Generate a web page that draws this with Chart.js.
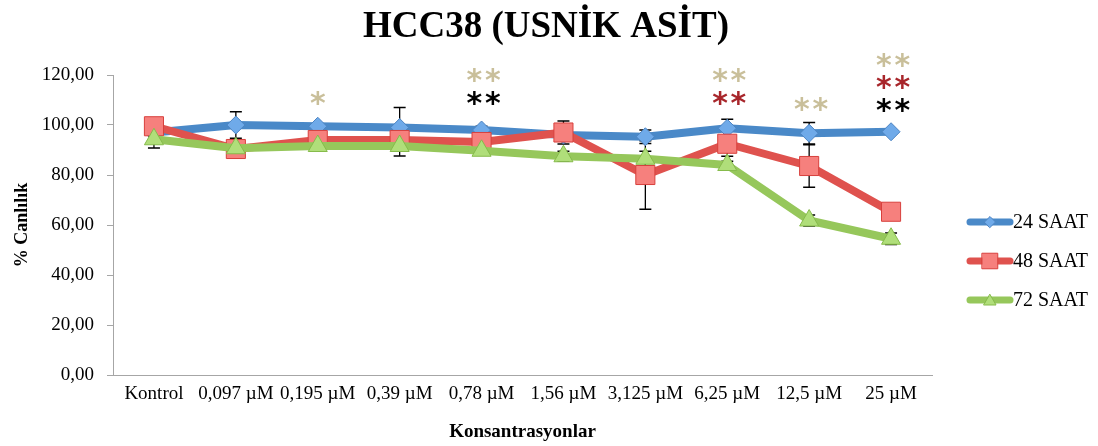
<!DOCTYPE html>
<html>
<head>
<meta charset="utf-8">
<script src="https://cdn.jsdelivr.net/npm/chart.js@4.4.1/dist/chart.umd.min.js"></script>
<style>
html,body{margin:0;padding:0;background:#fff;}
#wrap{width:1098px;height:446px;}
</style>
</head>
<body>
<div id="wrap"><canvas id="c" width="1098" height="446"></canvas></div>
<script>
// ---- data ----
const categories = ['Kontrol', '0,097 µM', '0,195 µM', '0,39 µM', '0,78 µM', '1,56 µM', '3,125 µM', '6,25 µM', '12,5 µM', '25 µM'];
const seriesNames = ['24 SAAT', '48 SAAT', '72 SAAT'];
const saat24 = [97, 100, 99.5, 99, 98, 96, 95.3, 98.7, 96.7, 97.3];
const saat48 = [99.5, 90.4, 94, 94, 93.2, 97, 80, 92.5, 83.6, 65.3];
const saat72 = [94.3, 90.7, 91.6, 91.6, 89.7, 87.5, 86.5, 84, 61.8, 54.5];
const err24 = [1.5, 5.3, 1, 8, 1.5, 2, 2.7, 3.6, 4.3, 0.8];
const err48 = [2, 3.5, 1.5, 1.5, 2, 4.6, 13.7, 5, 8.5, 1.5];
const err72 = [3.5, 1.5, 1.5, 4, 1.5, 2, 3, 1.5, 2.2, 2.3];
const yTicks = [0, 20, 40, 60, 80, 100, 120];
// significance marks per category (24 h = black, 48 h = red, 72 h = tan)
const sig24 = ['', '', '', '', '**', '', '', '', '', '**'];
const sig48 = ['', '', '', '', '', '', '', '**', '', '**'];
const sig72 = ['', '', '*', '', '**', '', '', '**', '**', '**'];

// ---- styles ----
const SERIF = '"Liberation Serif", "Times New Roman", serif';
const styles = [
  {line: '#4a89c8', fill: '#6faae9', border: '#4d84c2', style: 'rectRot', r: 9, lr: 5.5},
  {line: '#df524e', fill: '#f6807d', border: '#d8403d', style: 'rect', r: 13.5, lr: 11},
  {line: '#96c75b', fill: '#b0de7a', border: '#86bb4b', style: 'triangle', r: 11, lr: 7}
];
const errs = [err24, err48, err72];
const sigs = [sig24, sig48, sig72];
const sigColors = ['#000000', '#a8262b', '#c9bf9a'];

const extras = {
  id: 'extras',
  beforeDatasetsDraw(chart) {
    const {ctx, scales: {x, y}} = chart;
    ctx.save();
    ctx.strokeStyle = '#000';
    ctx.lineWidth = 1.3;
    chart.data.datasets.forEach((ds, di) => {
      ds.data.forEach((v, i) => {
        const e = errs[di][i];
        const px = x.getPixelForValue(i);
        const top = y.getPixelForValue(v + e);
        const bot = y.getPixelForValue(v - e);
        ctx.beginPath();
        ctx.moveTo(px, top); ctx.lineTo(px, bot);
        ctx.moveTo(px - 6, top); ctx.lineTo(px + 6, top);
        ctx.moveTo(px - 6, bot); ctx.lineTo(px + 6, bot);
        ctx.stroke();
      });
    });
    ctx.restore();
  },
  afterDatasetsDraw(chart) {
    const {ctx, scales: {x, y}} = chart;
    ctx.save();
    ctx.font = 'bold 30px "DejaVu Sans", sans-serif';
    ctx.textAlign = 'center';
    ctx.textBaseline = 'middle';
    const starBase = [110.5, 110.5, 110.5, 110.5, 110.4, 110.5, 110.5, 110.4, 108, 107.6];
    categories.forEach((c, i) => {
      let row = 0;
      const px = x.getPixelForValue(i) + 2;
      const base = y.getPixelForValue(starBase[i]);
      for (let s = 0; s < 3; s++) {
        const m = sigs[s][i];
        if (!m) continue;
        const cy = base - row * 22.5;
        ctx.fillStyle = sigColors[s];
        if (m.length === 1) {
          ctx.fillText('*', px - 2, cy + 6);
        } else {
          ctx.fillText('*', px - 9.2, cy + 6);
          ctx.fillText('*', px + 9.2, cy + 6);
        }
        row++;
      }
    });
    ctx.restore();
  },
  afterDraw(chart) {
    const {ctx} = chart;
    ctx.save();
    const rows = [222, 261, 300];
    seriesNames.forEach((name, i) => {
      const st = styles[i];
      const yy = rows[i];
      ctx.strokeStyle = st.line;
      ctx.lineWidth = 7;
      ctx.lineCap = 'round';
      ctx.beginPath();
      ctx.moveTo(970, yy); ctx.lineTo(1010, yy);
      ctx.stroke();
      ctx.fillStyle = st.fill;
      ctx.strokeStyle = st.border;
      ctx.lineWidth = 1;
      Chart.helpers.drawPoint(ctx, {pointStyle: st.style, radius: st.lr, rotation: 0, borderWidth: 1}, 990, yy + (st.style === 'triangle' ? 1.5 : 0));
      ctx.fillStyle = '#000';
      ctx.font = '20px ' + SERIF;
      ctx.textAlign = 'left';
      ctx.textBaseline = 'middle';
      ctx.fillText(name, 1013, yy + 1);
    });
    ctx.restore();
  }
};

const seriesData = [saat24, saat48, saat72];
const datasets = seriesData.map((d, i) => ({
  label: seriesNames[i],
  data: d,
  xAxisID: 'x',
  yAxisID: 'y',
  borderColor: styles[i].line,
  borderWidth: 8,
  tension: 0,
  fill: false,
  borderJoinStyle: 'round',
  borderCapStyle: 'round',
  pointStyle: styles[i].style,
  pointRadius: styles[i].r,
  pointHoverRadius: styles[i].r,
  pointBackgroundColor: styles[i].fill,
  pointBorderColor: styles[i].border,
  pointBorderWidth: 1,
  order: 3 - i
}));

new Chart(document.getElementById('c'), {
  type: 'line',
  data: {labels: categories, datasets},
  options: {
    responsive: false,
    animation: false,
    devicePixelRatio: 1,
    layout: {padding: {left: 0, right: 6, top: 0, bottom: 0}},
    plugins: {
      legend: {display: false},
      tooltip: {enabled: false},
      title: {
        display: true,
        text: 'HCC38 (USNİK ASİT)',
        color: '#000',
        font: {family: SERIF, size: 37, weight: 'bold', lineHeight: 1.2},
        padding: {top: 5, bottom: 25.6}
      }
    },
    scales: {
      x: {
        type: 'category',
        offset: true,
        grid: {display: false, drawTicks: false},
        border: {display: true, color: '#a6a6a6', width: 1},
        ticks: {autoSkip: false, maxRotation: 0, minRotation: 0, padding: 8, color: '#000', font: {family: SERIF, size: 19}},
        title: {display: true, text: 'Konsantrasyonlar', color: '#000', font: {family: SERIF, size: 19, weight: 'bold', lineHeight: 1.2}, padding: {top: 0, bottom: 3}},
        afterFit(s) { s.height = 71; }
      },
      y: {
        position: 'left',
        min: 0, max: 120,
        afterBuildTicks(s) { s.ticks = yTicks.map(v => ({value: v})); },
        ticks: {padding: 13, color: '#000', font: {family: SERIF, size: 19}, callback: v => v.toFixed(2).replace('.', ',')},
        grid: {display: true, drawOnChartArea: false, drawTicks: true, tickLength: 6, color: '#a6a6a6'},
        border: {display: true, color: '#a6a6a6', width: 1},
        title: {display: true, text: '% Canlılık', color: '#000', font: {family: SERIF, size: 18, weight: 'bold', lineHeight: 1.2}, padding: {top: 12, bottom: 0}},
        afterFit(s) { s.width = 113; }
      },
      legendSpace: {
        type: 'linear',
        axis: 'y',
        position: 'right',
        display: true,
        min: 0, max: 120,
        grid: {display: false, drawTicks: false},
        border: {display: false},
        ticks: {display: false},
        afterFit(s) { s.width = 160; }
      }
    }
  },
  plugins: [extras]
});
</script>
</body>
</html>
